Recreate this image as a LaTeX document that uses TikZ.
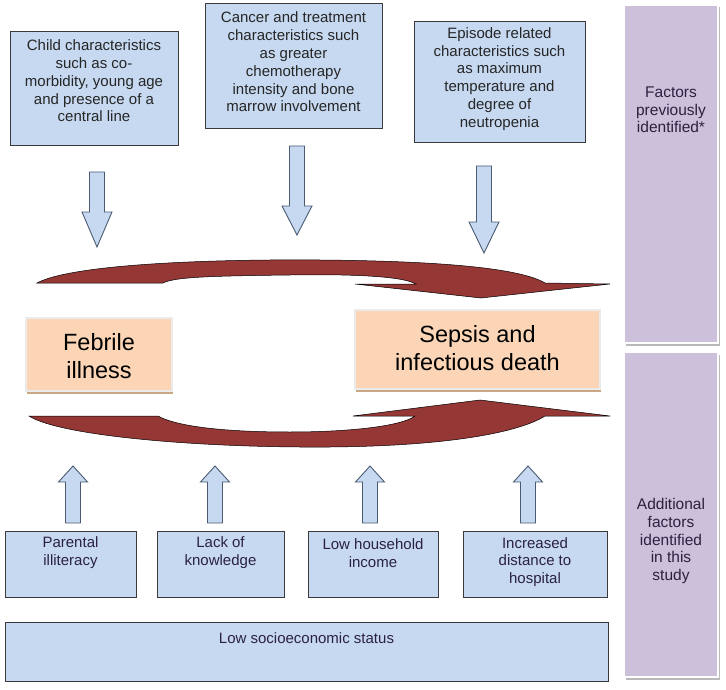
\documentclass[tikz,border=0pt]{standalone}
\usepackage{fontspec}
\setmainfont{Liberation Sans}
\definecolor{boxblue}{HTML}{C6D9F1}
\definecolor{boxline}{HTML}{3A3A3A}
\definecolor{arrowline}{HTML}{4A5A70}
\definecolor{peach}{HTML}{FBD5B5}
\definecolor{peachshadow}{HTML}{C9A888}
\definecolor{lilac}{HTML}{CCC0DA}
\definecolor{curvered}{HTML}{953735}
\definecolor{inktext}{HTML}{2B2140}
\tikzset{
  factor/.style={draw=boxline,fill=boxblue,line width=1pt,inner sep=0pt},
  factortext/.style={align=center,text=black!85,font=\fontsize{15}{17.8}\selectfont},
  lowtext/.style={align=center,text=inktext,font=\fontsize{15}{17.8}\selectfont},
  outcome/.style={fill=peach,draw=white!92!black,line width=1.5pt,inner sep=0pt,
    preaction={fill=peachshadow,transform canvas={xshift=1pt,yshift=-3pt}}},
  outcometext/.style={align=center,font=\fontsize{23.5}{28}\selectfont},
  panel/.style={fill=lilac,draw=gray!35,double=white,double distance=2pt,inner sep=0pt,
    preaction={fill=gray!55,transform canvas={xshift=1.5pt,yshift=-2.5pt}}},
  paneltext/.style={align=center,text=inktext,font=\fontsize{15.5}{17.6}\selectfont},
  blockarrow/.style={draw=arrowline,fill=boxblue,line width=0.9pt,line join=miter},
  bigcurve/.style={draw=black,fill=curvered,line width=0.5pt}
}
\begin{document}
\begin{tikzpicture}[x=1pt,y=-1pt]
\useasboundingbox (0,0) rectangle (726,690);
% side panels
\node[panel,minimum width=94pt,minimum height=338pt] (previous) at (671,174) {};
\node[panel,minimum width=94pt,minimum height=325pt] (additional) at (671,514.5) {};
\node[paneltext] (previous-t) at (671,110) {Factors\\previously\\identified*};
\node[paneltext] (additional-t) at (671,541) {Additional\\factors\\identified\\in this\\study};
% known factors
\node[factor,minimum width=168pt,minimum height=114pt] (child) at (94,89) {};
\node[factor,minimum width=177pt,minimum height=125pt] (cancer) at (293.5,66.5) {};
\node[factor,minimum width=171pt,minimum height=121pt] (episode) at (499.5,82.5) {};
\node[factortext] (child-t) at (94,81) {Child characteristics\\such as co-\\morbidity, young age\\and presence of a\\central line};
\node[factortext] (cancer-t) at (293.5,62) {Cancer and treatment\\characteristics such\\as greater\\chemotherapy\\intensity and bone\\marrow involvement};
\node[factortext] (episode-t) at (499.5,79) {Episode related\\characteristics such\\as maximum\\temperature and\\degree of\\neutropenia};
\foreach \cx/\ytop/\yhead/\ytip in {97/172/212/247, 297/146/206/235, 484/166/222/253}
  \draw[blockarrow] (\cx-7.5,\ytop) -- (\cx+7.5,\ytop) -- (\cx+7.5,\yhead) -- (\cx+15,\yhead)
    -- (\cx,\ytip) -- (\cx-15,\yhead) -- (\cx-7.5,\yhead) -- cycle;
% curved arrows
\draw[bigcurve] (37,283) .. controls (70,265) and (200,259) .. (320,260)
  .. controls (440,261) and (520,268) .. (545,283) -- (610,284) -- (481,298) -- (355,284) -- (416,284)
  .. controls (402,276) and (350,274) .. (290,275) .. controls (210,276) and (175,277) .. (163,283) -- cycle;
\draw[bigcurve] (29,416) .. controls (60,436) and (200,448) .. (330,447)
  .. controls (450,446) and (520,432) .. (545,416) -- (610,416) -- (480,400) -- (353,416) -- (415,416)
  .. controls (402,426) and (350,432) .. (290,432) .. controls (210,432) and (172,424) .. (158,416) -- cycle;
% outcomes
\node[outcome,minimum width=146pt,minimum height=73pt] (febrile) at (99,354.5) {};
\node[outcome,minimum width=245pt,minimum height=79pt] (sepsis) at (477.5,349.5) {};
\node[outcometext] (febrile-t) at (99,356) {Febrile\\illness};
\node[outcometext] (sepsis-t) at (477.5,348) {Sepsis and\\infectious death};
% new factors
\foreach \cx in {73,215,370,528}
  \draw[blockarrow] (\cx-7.5,523) -- (\cx+7.5,523) -- (\cx+7.5,482) -- (\cx+14.5,482)
    -- (\cx,466) -- (\cx-14.5,482) -- (\cx-7.5,482) -- cycle;
\node[factor,minimum width=131pt,minimum height=66pt] (illiteracy) at (70.5,564) {};
\node[factor,minimum width=127pt,minimum height=66pt] (knowledge) at (220.5,564) {};
\node[factor,minimum width=130pt,minimum height=66pt] (income) at (373,564) {};
\node[factor,minimum width=144pt,minimum height=66pt] (distance) at (535,564) {};
\node[factor,minimum width=603pt,minimum height=59pt] (ses) at (306.5,651.5) {};
\node[lowtext] (illiteracy-t) at (70.5,553) {Parental\\illiteracy};
\node[lowtext] (knowledge-t) at (220.5,553) {Lack of\\knowledge};
\node[lowtext] (income-t) at (373,553) {Low household\\income};
\node[lowtext] (distance-t) at (535,562) {Increased\\distance to\\hospital};
\node[lowtext] (ses-t) at (306.5,638) {Low socioeconomic status};
\end{tikzpicture}
\end{document}
